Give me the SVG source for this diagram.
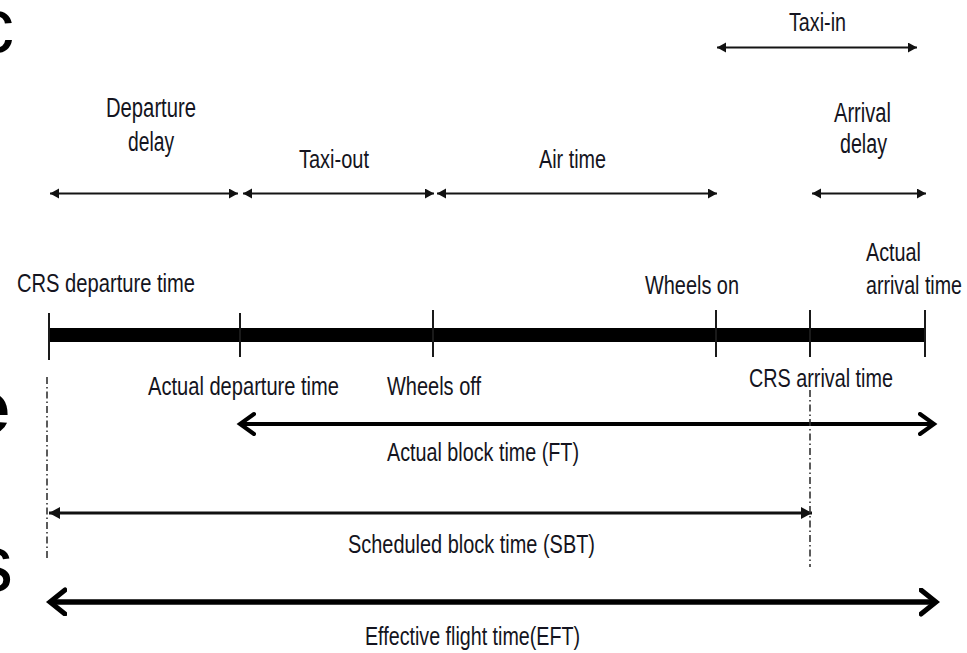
<svg xmlns="http://www.w3.org/2000/svg" width="967" height="653" viewBox="0 0 967 653">
<style>
.t{font-family:"Liberation Sans",Arial,sans-serif;font-size:25px;fill:#141420}
.tl{font-size:27px}
.big{font-family:"Liberation Sans",Arial,sans-serif;fill:#000}
.thin{stroke:#141414;stroke-width:2;fill:none}
.dd{stroke:#333;stroke-width:1.6;stroke-dasharray:7 3 1.5 3;fill:none}
.tick{stroke:#1a1a1a;stroke-width:2}
</style>
<defs>
<marker id="fs" markerUnits="userSpaceOnUse" markerWidth="12" markerHeight="12" refX="9" refY="5" orient="auto-start-reverse">
<path d="M0,0 L9,5 L0,10 z" fill="#111"/>
</marker>
<marker id="fm" markerUnits="userSpaceOnUse" markerWidth="14" markerHeight="14" refX="11" refY="6" orient="auto-start-reverse">
<path d="M0,0 L11,6 L0,12 z" fill="#111"/>
</marker>
<marker id="ch" markerUnits="userSpaceOnUse" markerWidth="22" markerHeight="26" refX="16" refY="12" orient="auto-start-reverse">
<path d="M2,2 L16,12 L2,22" fill="none" stroke="#000" stroke-width="4" stroke-linecap="round" stroke-linejoin="miter"/>
</marker>
<marker id="chb" markerUnits="userSpaceOnUse" markerWidth="24" markerHeight="30" refX="17" refY="14" orient="auto-start-reverse">
<path d="M2,2 L17,14 L2,26" fill="none" stroke="#000" stroke-width="5" stroke-linecap="round" stroke-linejoin="miter"/>
</marker>
</defs>

<g id="edge-letters">
<text class="big" x="-24" y="52" font-size="76">c</text>
<text class="big" x="-31" y="433" font-size="74" font-weight="bold">e</text>
<text class="big" x="-27" y="591" font-size="80">s</text>
</g>

<g id="connectors">
<line class="thin" x1="50" y1="193.5" x2="238" y2="193.5" marker-start="url(#fs)" marker-end="url(#fs)"/>
<line class="thin" x1="243" y1="193.5" x2="434" y2="193.5" marker-start="url(#fs)" marker-end="url(#fs)"/>
<line class="thin" x1="437" y1="193.5" x2="717" y2="193.5" marker-start="url(#fs)" marker-end="url(#fs)"/>
<line class="thin" x1="812" y1="193.5" x2="926" y2="193.5" marker-start="url(#fs)" marker-end="url(#fs)"/>
<line class="thin" x1="717" y1="47.5" x2="917" y2="47.5" marker-start="url(#fs)" marker-end="url(#fs)" stroke-width="2.5"/>
<line x1="240" y1="424" x2="934" y2="424" stroke="#000" stroke-width="4" marker-start="url(#ch)" marker-end="url(#ch)"/>
<line x1="49" y1="513" x2="812" y2="513" stroke="#111" stroke-width="3" marker-start="url(#fm)" marker-end="url(#fm)"/>
<line x1="50" y1="602" x2="936" y2="602" stroke="#000" stroke-width="5.5" marker-start="url(#chb)" marker-end="url(#chb)"/>
<line class="dd" x1="47" y1="377" x2="47" y2="558"/>
<line class="dd" x1="810" y1="390" x2="810" y2="567"/>
</g>

<g id="timeline">
<rect x="49" y="328" width="876" height="14" fill="#000"/>
<line class="tick" x1="49" y1="313" x2="49" y2="360"/>
<line class="tick" x1="240" y1="313" x2="240" y2="357"/>
<line class="tick" x1="433" y1="310" x2="433" y2="357"/>
<line class="tick" x1="716" y1="310" x2="716" y2="357"/>
<line class="tick" x1="810" y1="310" x2="810" y2="357"/>
<line class="tick" x1="925" y1="310" x2="925" y2="357"/>
</g>

<g id="departure-delay">
<text class="t tl" x="106" y="117" textLength="90" lengthAdjust="spacingAndGlyphs">Departure</text>
<text class="t tl" x="128" y="151" textLength="46" lengthAdjust="spacingAndGlyphs">delay</text>
</g>
<g id="taxi-out"><text class="t" x="299" y="168" textLength="70" lengthAdjust="spacingAndGlyphs">Taxi-out</text></g>
<g id="air-time"><text class="t" x="539" y="168" textLength="67" lengthAdjust="spacingAndGlyphs">Air time</text></g>
<g id="taxi-in"><text class="t" x="789" y="31" textLength="57" lengthAdjust="spacingAndGlyphs">Taxi-in</text></g>
<g id="arrival-delay">
<text class="t tl" x="834" y="122" textLength="57" lengthAdjust="spacingAndGlyphs">Arrival</text>
<text class="t tl" x="840" y="153" textLength="47" lengthAdjust="spacingAndGlyphs">delay</text>
</g>
<g id="crs-departure"><text class="t" x="17" y="292" textLength="178" lengthAdjust="spacingAndGlyphs">CRS departure time</text></g>
<g id="wheels-on"><text class="t" x="645" y="294" textLength="94" lengthAdjust="spacingAndGlyphs">Wheels on</text></g>
<g id="actual-arrival">
<text class="t" x="866" y="261" textLength="55" lengthAdjust="spacingAndGlyphs">Actual</text>
<text class="t" x="866" y="294" textLength="96" lengthAdjust="spacingAndGlyphs">arrival time</text>
</g>
<g id="actual-departure"><text class="t" x="148" y="395" textLength="191" lengthAdjust="spacingAndGlyphs">Actual departure time</text></g>
<g id="wheels-off"><text class="t" x="387" y="395" textLength="94" lengthAdjust="spacingAndGlyphs">Wheels off</text></g>
<g id="crs-arrival"><text class="t" x="749" y="387" textLength="144" lengthAdjust="spacingAndGlyphs">CRS arrival time</text></g>
<g id="actual-block"><text class="t" x="387" y="461" textLength="192" lengthAdjust="spacingAndGlyphs">Actual block time (FT)</text></g>
<g id="scheduled-block"><text class="t" x="348" y="553" textLength="247" lengthAdjust="spacingAndGlyphs">Scheduled block time (SBT)</text></g>
<g id="effective-flight"><text class="t" x="365" y="645" textLength="215" lengthAdjust="spacingAndGlyphs">Effective flight time(EFT)</text></g>
</svg>
